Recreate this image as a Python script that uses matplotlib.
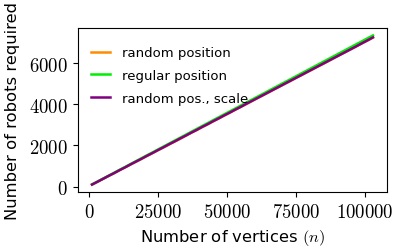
import matplotlib
matplotlib.use("Agg")
import matplotlib.pyplot as plt

# Number of vertices (n)
vertices = [1000, 3000, 5000, 7000, 9000, 11000, 13000, 15000, 17000, 19000,
            21000, 23000, 25000, 27000, 29000, 31000, 33000, 35000, 37000, 39000,
            41000, 43000, 45000, 47000, 49000, 51000, 53000, 55000, 57000, 59000,
            61000, 63000, 65000, 67000, 69000, 71000, 73000, 75000, 77000, 79000,
            81000, 83000, 85000, 87000, 89000, 91000, 93000, 95000, 97000, 99000,
            101000, 103000]

random_position = [100, 235, 372, 515, 650, 795, 930, 1075, 1210, 1350,
                   1490, 1630, 1770, 1905, 2045, 2185, 2320, 2470, 2610, 2745,
                   2890, 3025, 3170, 3310, 3450, 3590, 3730, 3870, 4010, 4150,
                   4295, 4430, 4570, 4715, 4850, 4995, 5130, 5275, 5410, 5555,
                   5690, 5835, 5970, 6115, 6255, 6395, 6535, 6675, 6815, 6960,
                   7095, 7240]

regular_position = [105, 245, 390, 530, 672, 815, 955, 1098, 1240, 1382,
                    1525, 1665, 1808, 1950, 2092, 2235, 2375, 2518, 2660, 2802,
                    2945, 3085, 3228, 3370, 3512, 3655, 3795, 3938, 4080, 4222,
                    4365, 4505, 4648, 4790, 4932, 5075, 5215, 5358, 5500, 5642,
                    5785, 5925, 6068, 6210, 6352, 6495, 6635, 6778, 6920, 7062,
                    7205, 7345]

random_scale = [100, 238, 378, 520, 655, 800, 935, 1080, 1218, 1355,
                1500, 1635, 1780, 1915, 2060, 2195, 2340, 2475, 2620, 2755,
                2900, 3035, 3180, 3315, 3460, 3595, 3740, 3875, 4020, 4160,
                4300, 4440, 4580, 4720, 4860, 5000, 5140, 5280, 5420, 5560,
                5700, 5840, 5980, 6120, 6260, 6400, 6540, 6680, 6820, 6965,
                7105, 7250]

plt.rcParams['mathtext.fontset'] = 'cm'

fig = plt.figure(figsize=(3.99, 2.53), dpi=100)
ax = fig.add_axes([78 / 399, 1 - 193 / 253, 309 / 399, 164 / 253])

ax.plot(vertices, random_position, color="#ff8c00", lw=1.8, label="random position")
ax.plot(vertices, regular_position, color="#00ee00", lw=1.8, label="regular position")
ax.plot(vertices, random_scale, color="#800080", lw=1.8, label="random pos., scale")

ax.set_xticks([0, 25000, 50000, 75000, 100000])
ax.set_xticklabels(["$0$", "$25000$", "$50000$", "$75000$", "$100000$"], fontsize=13.5)
ax.set_yticks([0, 2000, 4000, 6000])
ax.set_yticklabels(["$0$", "$2000$", "$4000$", "$6000$"], fontsize=13.5)
ax.tick_params(pad=4)
ax.set_xlabel("Number of vertices $(n)$", fontsize=11.8, labelpad=4)
ax.set_ylabel("Number of robots required", fontsize=11.8, labelpad=6)
ax.legend(loc="upper left", frameon=False, fontsize=9.5, handlelength=1.45,
          handletextpad=0.9, labelspacing=0.75, borderaxespad=0.75,
          bbox_to_anchor=(-0.0065, 0.982))

fig.savefig("out.png", dpi=100)
